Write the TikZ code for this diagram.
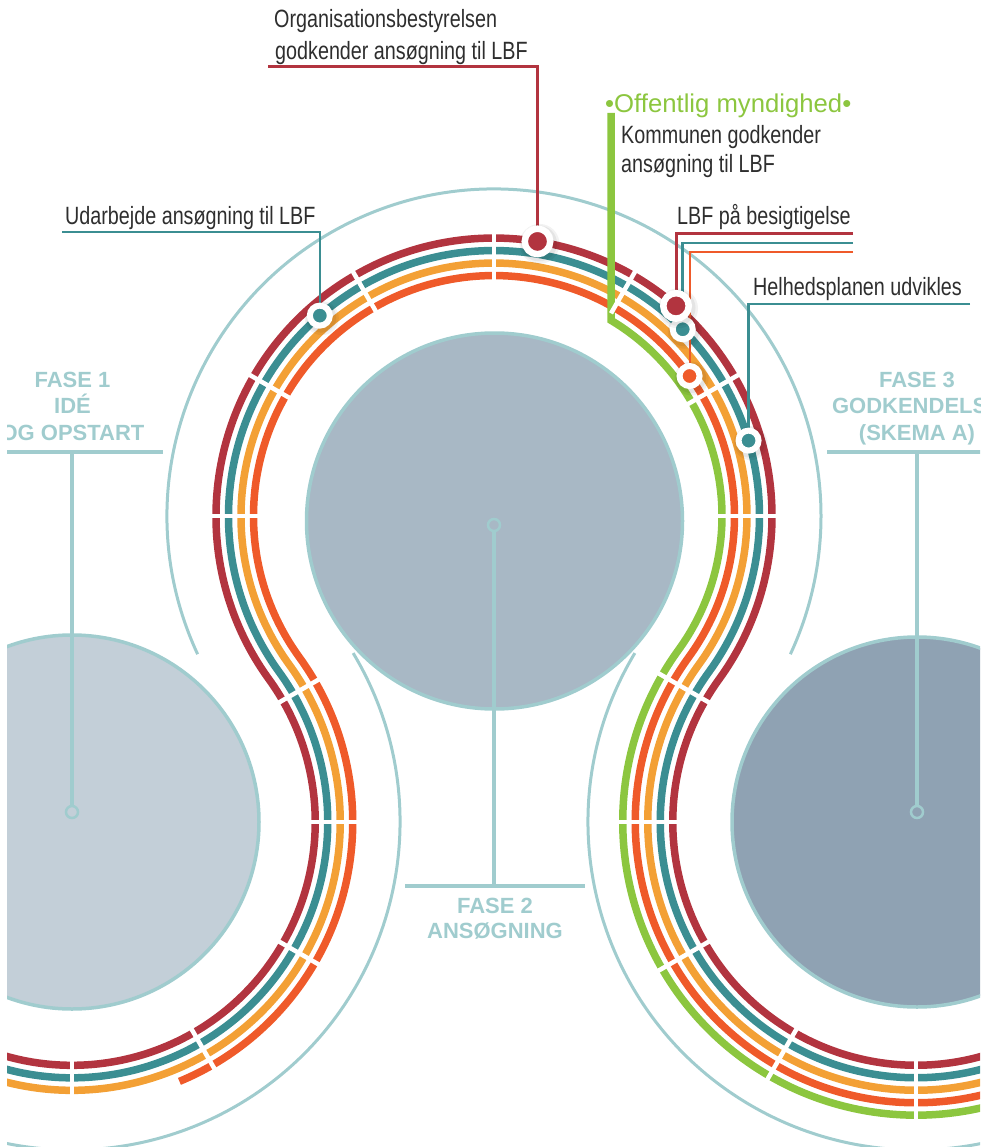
\documentclass[tikz,border=0pt]{standalone}
\usepackage{fontspec}
\setmainfont{Liberation Sans}
\newfontfamily\condfont{Liberation Sans}[FakeStretch=0.79]
\usetikzlibrary{calc}

\definecolor{bandred}{HTML}{B2343F}
\definecolor{bandteal}{HTML}{3B8E92}
\definecolor{bandorange}{HTML}{F3A035}
\definecolor{bandflame}{HTML}{EF5A2A}
\definecolor{bandgreen}{HTML}{8CC63F}
\definecolor{paleteal}{HTML}{A0CCCE}
\definecolor{discmid}{HTML}{A8B8C5}
\definecolor{discleft}{HTML}{C3CFD8}
\definecolor{discright}{HTML}{8FA2B3}
\definecolor{labeltext}{HTML}{2E2E2E}

% soft shadow under a milestone dot
\newcommand\dotshade[2]{%
  \fill[black,opacity=0.05] ([xshift=2pt,yshift=-2.5pt]#1) circle[radius=#2+4pt];
  \fill[black,opacity=0.06] ([xshift=1.5pt,yshift=-2pt]#1) circle[radius=#2+2pt];
}
% radial white cut through the bands
\newcommand\gapat[4]{\draw[gapcut] ([shift={#1}]#2:#3pt) -- ([shift={#1}]#2:#4pt);}

\begin{document}
\begin{tikzpicture}[x=1pt,y=1pt,
  bandline/.style={line width=7.5pt},
  gapcut/.style={white,line width=4.5pt},
  haloarc/.style={paleteal,line width=3pt},
  discstyle/.style={draw=paleteal,line width=3.5pt},
  phasebar/.style={paleteal,line width=3.5pt},
  leader/.style={line width=3pt},
  hubring/.style={circle,draw=paleteal,line width=2.5pt,minimum size=12pt,inner sep=0pt},
  dotbig/.style={circle,draw=white,line width=6.5pt,minimum size=25.5pt,inner sep=0pt},
  dotsmall/.style={circle,draw=white,line width=6pt,minimum size=20pt,inner sep=0pt},
  tagtext/.style={inner sep=0pt,anchor=base west,text=labeltext,font=\condfont\fontsize{25}{30}\selectfont},
  phasetext/.style={inner sep=0pt,anchor=base,text=paleteal,font=\bfseries\fontsize{22}{26}\selectfont},
]
\useasboundingbox (0,0) rectangle (991,-1147);

\begin{scope}
\clip (7,0) rectangle (980,-1147);

% outer guide arcs
\draw[haloarc] ([shift={(494,-516)}]205:327pt) arc[start angle=205,end angle=-25,radius=327pt];
\draw[haloarc] ([shift={(72,-822)}]31:328pt) arc[start angle=31,end angle=-110,radius=328pt];
\draw[haloarc] ([shift={(916,-822)}]149:328pt) arc[start angle=149,end angle=290,radius=328pt];

% phase discs
\fill[discleft] (72,-822) circle[radius=187pt];
\draw[discstyle] (72,-822) circle[radius=187pt];
\fill[discmid] (494.5,-521) circle[radius=188pt];
\draw[discstyle] (494.5,-521) circle[radius=188pt];
\fill[discright] (917,-822) circle[radius=185pt];
\draw[discstyle] (917,-822) circle[radius=185pt];

% phase hubs, bars and stems
\node[hubring] (hub1) at (72,-812) {};
\node[hubring] (hub2) at (494,-525) {};
\node[hubring] (hub3) at (917,-812) {};
\coordinate (bar1l) at (0,-452);
\coordinate (bar1r) at (163,-452);
\coordinate (bar1m) at (72,-452);
\coordinate (bar2l) at (405,-886);
\coordinate (bar2r) at (585,-886);
\coordinate (bar2m) at (494,-886);
\coordinate (bar3l) at (827,-452);
\coordinate (bar3r) at (991,-452);
\coordinate (bar3m) at (917,-452);
\draw[phasebar] (bar1l) -- (bar1r);
\draw[phasebar] (bar1m) -- (hub1);
\draw[phasebar] (bar2l) -- (bar2r);
\draw[phasebar] (bar2m) -- (hub2);
\draw[phasebar] (bar3l) -- (bar3r);
\draw[phasebar] (bar3m) -- (hub3);

% coloured process bands
\foreach \k/\col/\sa in {0/bandred/-115,1/bandteal/-115,2/bandorange/-115,3/bandflame/-67.5}{
  \pgfmathsetmacro\rl{243.25+12.5*\k}
  \pgfmathsetmacro\rc{278-12.5*\k}
  \draw[bandline,\col] ([shift={(72,-822)}]\sa:\rl pt)
    arc[start angle=\sa,end angle=35.94,radius=\rl pt]
    arc[start angle=215.94,end angle=-35.94,radius=\rc pt]
    arc[start angle=144.06,end angle=295,radius=\rl pt];
}
\coordinate (greentop) at (611,-113);
\draw[bandline,bandgreen] (greentop) -- ([shift={(494,-516)}]59.12:228pt)
  arc[start angle=59.12,end angle=-35.94,radius=228pt]
  arc[start angle=144.06,end angle=295,radius=293.25pt];

% cuts between band segments
\foreach \a in {90,120,150,180,60}{\gapat{(494,-516)}{\a}{234}{284}}
\foreach \a in {30,0}{\gapat{(494,-516)}{\a}{222}{284}}
\foreach \a in {30,0,-30,-60,-90}{\gapat{(72,-822)}{\a}{236}{287}}
\foreach \a in {150,180,210,240,270}{\gapat{(916,-822)}{\a}{236}{299}}

% milestone positions
\coordinate (orgc) at ([shift={(494,-516)}]81:278pt);
\coordinate (udc) at ([shift={(494,-516)}]131:265.5pt);
\coordinate (lbfrc) at ([shift={(494,-516)}]49.1:278pt);
\coordinate (lbftc) at ([shift={(494,-516)}]44.7:265.5pt);
\coordinate (lbffc) at ([shift={(494,-516)}]35.6:240.5pt);
\coordinate (helc) at ([shift={(494,-516)}]16.5:265.5pt);

% leader lines
\coordinate (orgend) at (268,-66.5);
\coordinate (udend) at (62,-232);
\coordinate (lbfrend) at (853,-234);
\coordinate (lbftend) at (853,-243);
\coordinate (lbffend) at (853,-252);
\coordinate (helend) at (970,-304);
\draw[leader,bandred,line width=3.3pt] (orgend) -| (orgc);
\draw[leader,bandteal,line width=2.5pt] (udend) -| (udc);
\draw[leader,bandred,line width=3pt] (lbfrend) -| (lbfrc);
\draw[leader,bandteal,line width=2.5pt] (lbftend) -| (lbftc);
\draw[leader,bandflame,line width=2pt] (lbffend) -| (lbffc);
\draw[leader,bandteal,line width=2.5pt] (helend) -| (helc);

% milestone dots
\dotshade{udc}{13pt}
\node[dotsmall,fill=bandteal] (uddot) at (udc) {};
\dotshade{orgc}{16pt}
\node[dotbig,fill=bandred] (orgdot) at (orgc) {};
\dotshade{helc}{13pt}
\node[dotsmall,fill=bandteal] (heldot) at (helc) {};
\dotshade{lbffc}{13pt}
\node[dotsmall,fill=bandflame] (lbffdot) at (lbffc) {};
\dotshade{lbftc}{13pt}
\node[dotsmall,fill=bandteal] (lbftdot) at (lbftc) {};
\dotshade{lbfrc}{16pt}
\node[dotbig,fill=bandred] (lbfrdot) at (lbfrc) {};

% phase titles
\node[phasetext] (f1a) at (72.5,-387) {FASE 1};
\node[phasetext] (f1b) at (72.5,-413) {IDÉ};
\node[phasetext] (f1c) at (72.5,-440) {OG OPSTART};
\node[phasetext] (f2a) at (495,-913) {FASE 2};
\node[phasetext] (f2b) at (495,-938) {ANSØGNING};
\node[phasetext] (f3a) at (917,-387) {FASE 3};
\node[phasetext] (f3b) at (917,-413) {GODKENDELSE};
\node[phasetext] (f3c) at (917,-440) {(SKEMA A)};
\end{scope}

% milestone captions
\node[tagtext] (org1) at (274,-28) {Organisationsbestyrelsen};
\node[tagtext] (org2) at (275,-60) {godkender ansøgning til LBF};
\node[tagtext] (udtxt) at (65,-225) {Udarbejde ansøgning til LBF};
\node[inner sep=0pt,anchor=base west,text=bandgreen,font=\fontsize{25.7}{30}\selectfont] (offtxt) at (605,-113) {•Offentlig myndighed•};
\node[tagtext] (kom1) at (621,-144) {Kommunen godkender};
\node[tagtext] (kom2) at (621,-173) {ansøgning til LBF};
\node[tagtext] (lbftxt) at (677,-225) {LBF på besigtigelse};
\node[tagtext] (heltxt) at (753,-295) {Helhedsplanen udvikles};
\end{tikzpicture}
\end{document}
